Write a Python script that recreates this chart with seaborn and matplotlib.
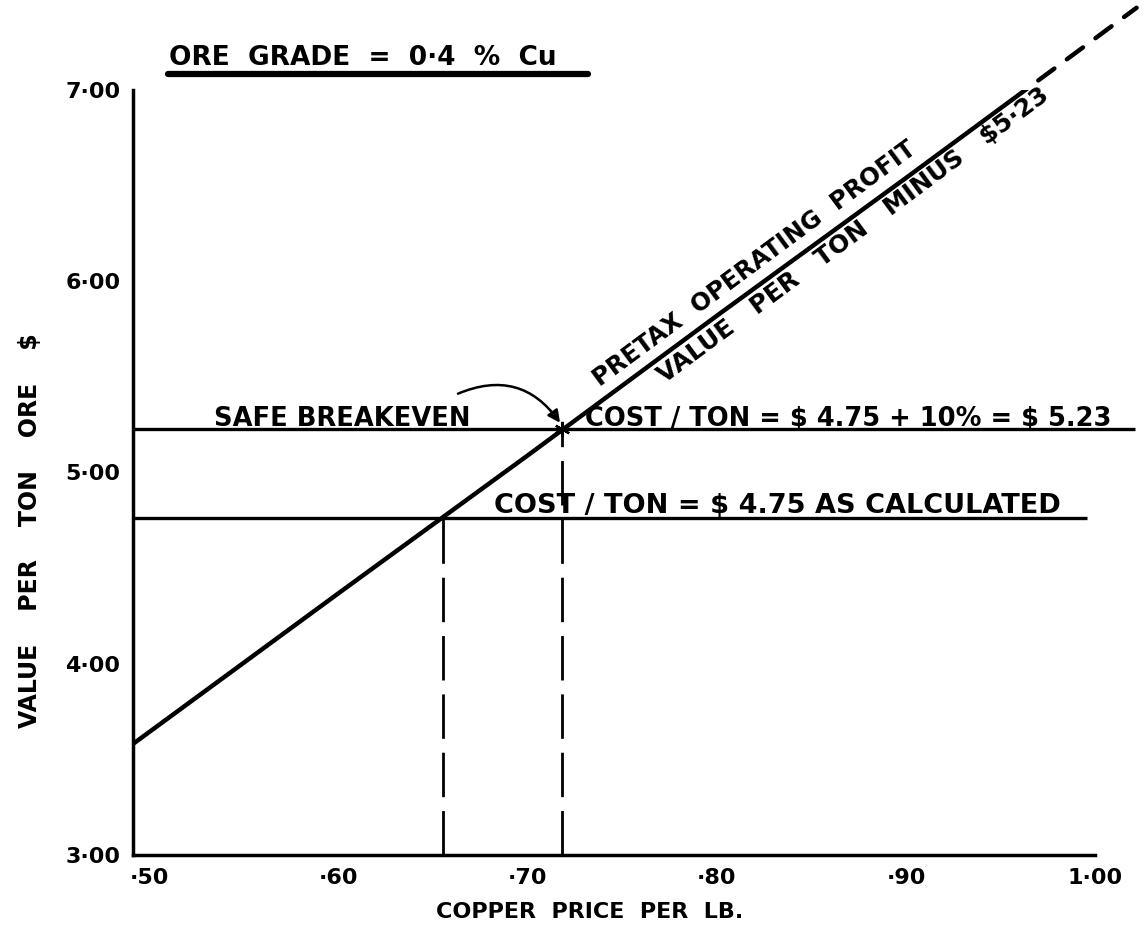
import matplotlib
matplotlib.use("Agg")
import matplotlib.pyplot as plt
import seaborn as sns
from matplotlib.lines import Line2D

# value per ton of ore (price $/lb -> $/ton)
value_price = [0.491, 0.60, 0.70, 0.80, 0.90, 0.97]
value_per_ton = [3.58, 4.37, 5.09, 5.82, 6.54, 7.05]
# dashed continuation past the frame
ext_price = [0.97, 1.022]
ext_value = [7.05, 7.43]

# cost levels: safe breakeven and calculated cost
cost_levels = [5.23, 4.76]
cost_ends = [1.021, 0.996]
breakeven_price = [0.718, 0.655]

x_ticks = [0.50, 0.60, 0.70, 0.80, 0.90, 1.00]
x_labels = ["·50", "·60", "·70", "·80", "·90", "1·00"]
y_ticks = [3, 4, 5, 6, 7]
y_labels = ["3·00", "4·00", "5·00", "6·00", "7·00"]

sns.set_theme(style="white")
plt.rcParams['font.family'] = 'DejaVu Sans'
plt.rcParams['font.weight'] = 'bold'
plt.rcParams['axes.labelweight'] = 'bold'
plt.rcParams['text.parse_math'] = False

W, H = 1148, 933
fig = plt.figure(figsize=(W / 100, H / 100), dpi=100)
ax = fig.add_axes([133 / W, 78 / H, 962 / W, 765 / H])
x0, x1 = 0.4911, 0.9958

sns.lineplot(x=value_price, y=value_per_ton, ax=ax, color='black', lw=3.2)
ax.plot(ext_price, ext_value, color='black', lw=3.2, dashes=(4.5, 3.5),
        dash_capstyle='round', clip_on=False)
ax.hlines(cost_levels, x0, cost_ends, colors='black', lw=2.4, clip_on=False)
ax.vlines(breakeven_price, 3.0, cost_levels, colors='black', lw=2.0,
          linestyles=[(0, (16, 5))])
# small star where the value line meets the safe breakeven
ax.plot(breakeven_price[0], cost_levels[0], marker=(6, 2, 0), ms=11,
        mew=1.6, color='black')

ax.set_xlim(x0, x1)
ax.set_ylim(3, 7)
ax.set_xticks(x_ticks, x_labels)
ax.set_yticks(y_ticks, y_labels)
ax.tick_params(length=0, pad=9, labelsize=16, labelcolor='black')
sns.despine(ax=ax)
for s in ['left', 'bottom']:
    ax.spines[s].set_color('black')
    ax.spines[s].set_linewidth(2.5)

ax.set_xlabel("COPPER  PRICE  PER  LB.", fontsize=16, color='black', fontweight='bold')
ax.xaxis.set_label_coords(0.475, -0.075)
ax.xaxis.label.set_va('center')
ax.set_ylabel("VALUE    PER    TON    ORE    $", fontsize=17, color='black',
              fontweight='bold')
ax.yaxis.set_label_coords(-0.107, 0.4235)
ax.yaxis.label.set_va('center')

ax.text(0.534, 5.245, "SAFE BREAKEVEN", fontsize=18.5, va='baseline', color='black')
ax.text(0.730, 5.245, "COST / TON = $ 4.75 + 10% = $ 5.23", fontsize=18.5,
        va='baseline', color='black', clip_on=False)
ax.text(0.682, 4.79, "COST / TON = $ 4.75 AS CALCULATED", fontsize=19.5,
        va='baseline', color='black')
ax.text(0.820, 6.093, "PRETAX  OPERATING  PROFIT", fontsize=17.5, rotation=36.5,
        ha='center', va='center', rotation_mode='anchor', color='black')
ax.text(0.872, 6.24, "VALUE   PER   TON   MINUS   $5·23", fontsize=18, rotation=36.5,
        ha='center', va='center', rotation_mode='anchor', color='black')

ax.annotate('', xy=(0.717, 5.26), xytext=(0.663, 5.412),
            arrowprops=dict(arrowstyle='-|>', color='black', lw=1.8,
                            connectionstyle='arc3,rad=-0.4', mutation_scale=18,
                            shrinkA=0, shrinkB=0))

fig.text(169 / W, 1 - 65 / H, "ORE  GRADE  =  0·4  %  Cu", fontsize=19,
         ha='left', va='baseline', color='black')
fig.add_artist(Line2D([168 / W, 588 / W], [1 - 74 / H, 1 - 74 / H], lw=4.5, color='black'))

fig.savefig('out.png', dpi=100)
